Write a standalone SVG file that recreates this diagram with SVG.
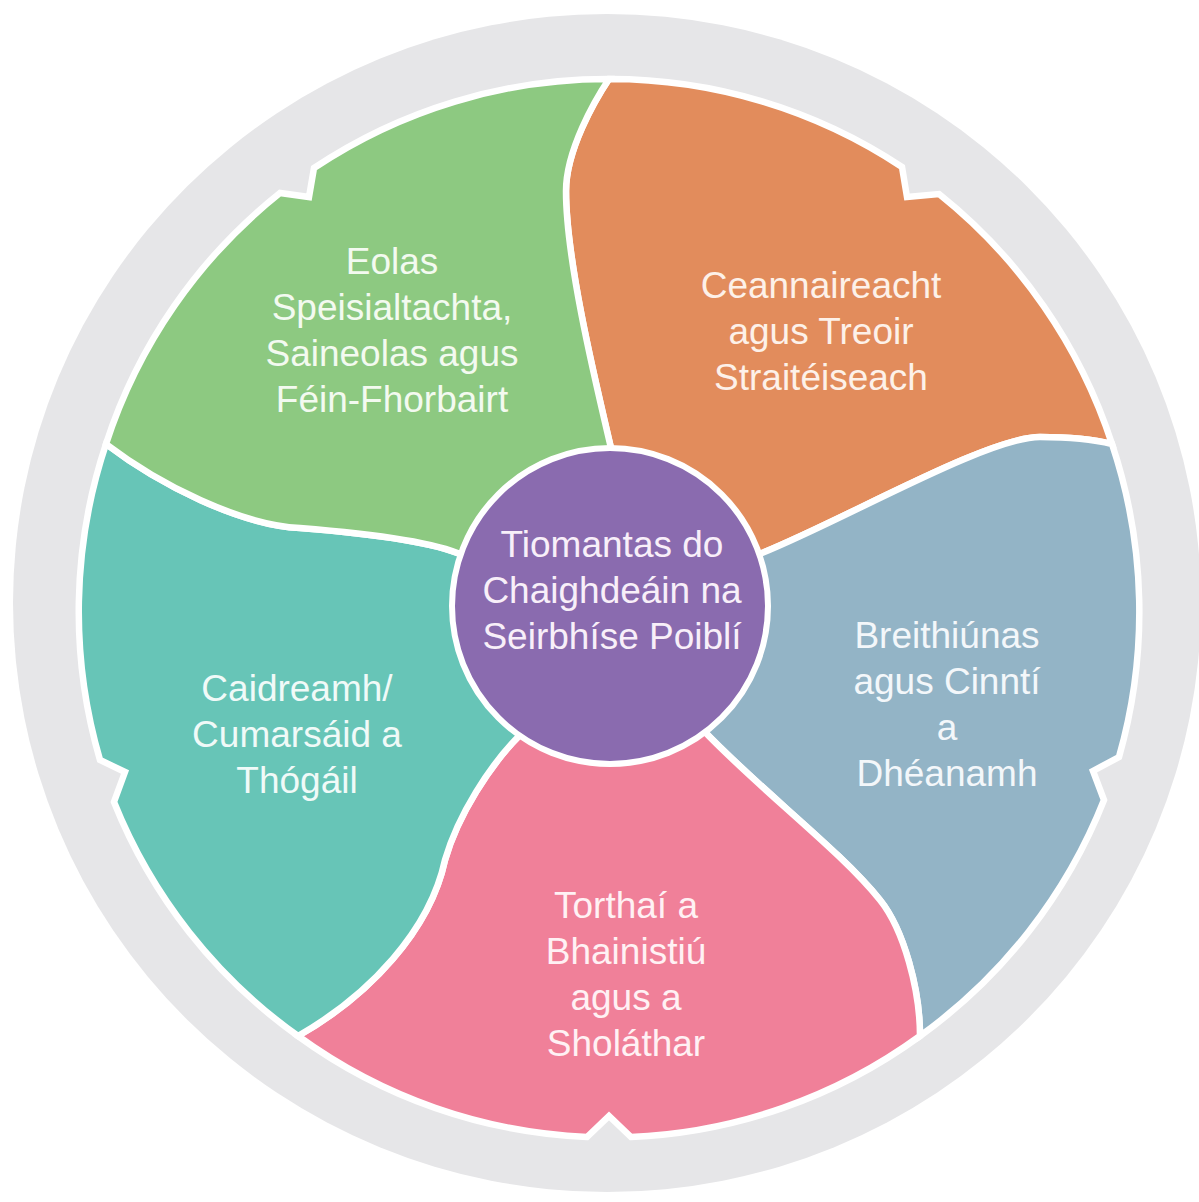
<svg xmlns="http://www.w3.org/2000/svg" width="1199" height="1202" viewBox="0 0 1199 1202">
<style>
.petal{stroke:#ffffff;stroke-width:6.5;stroke-linejoin:miter}
.lbl{font-family:"Liberation Sans",Arial,Helvetica,sans-serif;font-size:37px;text-anchor:middle}
</style>
<rect width="1199" height="1202" fill="#ffffff"/>
<g id="ring">
<ellipse cx="607" cy="603" rx="594" ry="589" fill="#e6e6e8"/>
</g>
<g id="node-orange">
<path class="petal" fill="#e28c5c" d="M611,448 C595,380 566,260 566,191 C566,150 595,100 609,79 A529,529 0 0 1 902,167 L907,197 L939,194 A529,529 0 0 1 1112,444 C1092,439 1070,437 1040,437 C985,437 830,528 752,557 Z"/>
<text class="lbl" fill="#fdf1e9"><tspan x="821" y="298">Ceannaireacht</tspan><tspan x="821" y="344">agus Treoir</tspan><tspan x="821" y="390">Straitéiseach</tspan></text>
</g>
<g id="node-blue">
<path class="petal" fill="#93b4c6" d="M752,557 C830,528 985,437 1040,437 C1070,437 1092,439 1112,444 A529,529 0 0 1 1119,757 L1093,771 L1104,800 A529,529 0 0 1 920,1036 C920,990 904,930 880,900 C840,850 760,790 703,730 Z"/>
<text class="lbl" fill="#f3f7fa"><tspan x="947" y="648">Breithiúnas</tspan><tspan x="947" y="694">agus Cinntí</tspan><tspan x="947" y="740">a</tspan><tspan x="947" y="786">Dhéanamh</tspan></text>
</g>
<g id="node-pink">
<path class="petal" fill="#f08099" d="M703,730 C760,790 840,850 880,900 C904,930 920,990 920,1036 A529,529 0 0 1 631,1137 L609,1116 L587,1137 A529,529 0 0 1 298,1036 C370,995 430,930 445,860 C458,815 490,765 520,735 Z"/>
<text class="lbl" fill="#fff1f4"><tspan x="626" y="918">Torthaí a</tspan><tspan x="626" y="964">Bhainistiú</tspan><tspan x="626" y="1010">agus a</tspan><tspan x="626" y="1056">Sholáthar</tspan></text>
</g>
<g id="node-teal">
<path class="petal" fill="#67c5b7" d="M520,735 C490,765 458,815 445,860 C430,930 370,995 298,1036 A529,529 0 0 1 114,802 L125,772 L100,760 A529,529 0 0 1 106,444 C160,485 240,525 300,528 C350,532 430,540 462,555 Z"/>
<text class="lbl" fill="#f0faf8"><tspan x="297" y="701">Caidreamh/</tspan><tspan x="297" y="747">Cumarsáid a</tspan><tspan x="297" y="793">Thógáil</tspan></text>
</g>
<g id="node-green">
<path class="petal" fill="#8dc981" d="M462,555 C430,540 350,532 300,528 C240,525 160,485 106,444 A529,529 0 0 1 280,193 L309,197 L314,168 A529,529 0 0 1 609,79 C595,100 566,150 566,191 C566,260 595,380 611,448 Z"/>
<text class="lbl" fill="#f3faf0"><tspan x="392" y="274">Eolas</tspan><tspan x="392" y="320">Speisialtachta,</tspan><tspan x="392" y="366">Saineolas agus</tspan><tspan x="392" y="412">Féin-Fhorbairt</tspan></text>
</g>
<g id="node-center">
<circle cx="610" cy="606" r="158" fill="#8a6baf" stroke="#ffffff" stroke-width="6"/>
<text class="lbl" fill="#f8eff9"><tspan x="612" y="557">Tiomantas do</tspan><tspan x="612" y="603">Chaighdeáin na</tspan><tspan x="612" y="649">Seirbhíse Poiblí</tspan></text>
</g>
</svg>
